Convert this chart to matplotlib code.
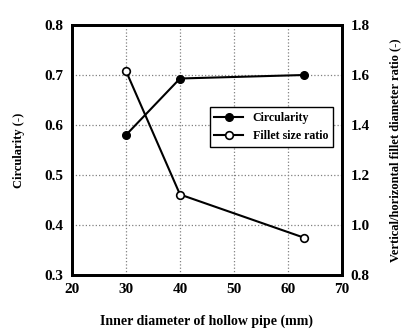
import matplotlib
matplotlib.use("Agg")
import matplotlib.pyplot as plt

plt.rcParams['font.family'] = 'Liberation Serif'
plt.rcParams['font.weight'] = 'bold'

diam = [30, 40, 63]
circularity = [0.58, 0.693, 0.700]
fillet_ratio = [1.616, 1.122, 0.949]

fig = plt.figure(figsize=(4.2, 3.32), dpi=100)
ax = fig.add_axes([72/420, 1-275/332, 270/420, 250/332])
ax2 = ax.twinx()

l1, = ax.plot(diam, circularity, 'k-', marker='o', ms=5.5, mfc='black', lw=1.5, label='Circularity')
l2, = ax2.plot(diam, fillet_ratio, 'k-', marker='o', ms=5.5, mfc='white', mew=1.2, lw=1.5, label='Fillet size ratio')

ax.set_xlim(20, 70)
ax.set_ylim(0.3, 0.8)
ax2.set_ylim(0.8, 1.8)
ax.set_xticks([20, 30, 40, 50, 60, 70])
ax.set_yticks([0.3, 0.4, 0.5, 0.6, 0.7, 0.8])
ax2.set_yticks([0.8, 1.0, 1.2, 1.4, 1.6, 1.8])
ax.set_yticklabels(['0.3', '0.4', '0.5', '0.6', '0.7', '0.8'])
ax2.set_yticklabels(['0.8', '1.0', '1.2', '1.4', '1.6', '1.8'])
ax.grid(True, ls=':', color='gray', lw=0.9)
for a in (ax, ax2):
    a.tick_params(length=0, labelsize=11, pad=6)
    for s in a.spines.values():
        s.set_linewidth(2)

ax.set_xlabel('Inner diameter of hollow pipe (mm)', fontsize=10, fontweight='bold', labelpad=13)
ax.set_ylabel('Circularity (-)', fontsize=9, fontweight='bold', labelpad=14)
ax2.set_ylabel('Vertical/horizontal fillet diameter ratio (-)', fontsize=9, fontweight='bold', labelpad=14)

leg = ax.legend([l1, l2], ['Circularity', 'Fillet size ratio'], loc='upper left',
                bbox_to_anchor=(0.51, 0.672), borderaxespad=0, fancybox=False, edgecolor='black',
                fontsize=8.6, handlelength=2.4, borderpad=0.4, labelspacing=0.55, framealpha=1)
leg.get_frame().set_linewidth(1)

fig.savefig('out.png', dpi=100)
